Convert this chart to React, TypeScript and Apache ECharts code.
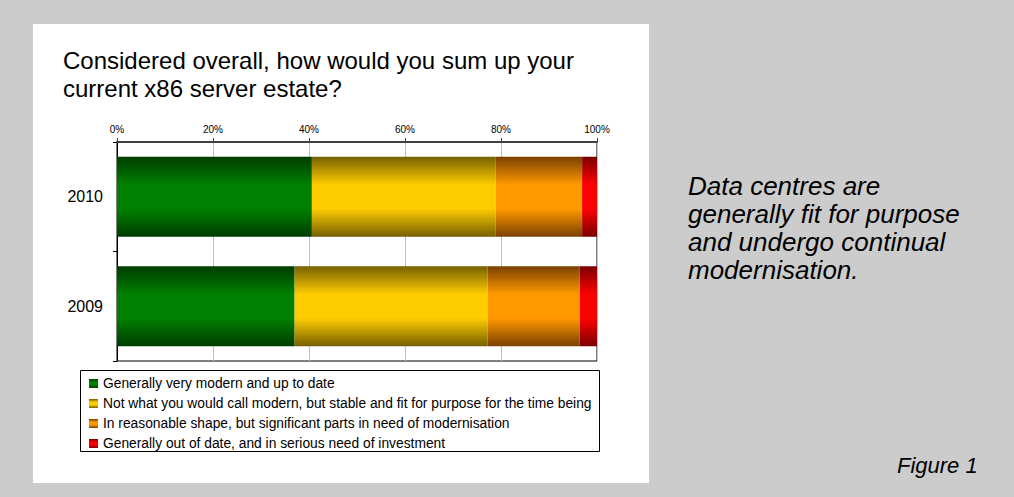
import React, { useEffect, useRef } from "react";
import * as echarts from "echarts";

const categories = ["2009", "2010"];
const seriesNames = [
  "Generally very modern and up to date",
  "Not what you would call modern, but stable and fit for purpose for the time being",
  "In reasonable shape, but significant parts in need of modernisation",
  "Generally out of date, and in serious need of investment",
];
const veryModern = [37.0, 40.6];
const stableFit = [40.2, 38.3];
const needModernisation = [19.2, 18.0];
const outOfDate = [3.6, 3.1];
const xTicks = [0, 20, 40, 60, 80, 100];

const seriesValues = [veryModern, stableFit, needModernisation, outOfDate];
const palette = [
  ["#003c00", "#008000"],
  ["#766000", "#ffcc00"],
  ["#7a4000", "#ff9900"],
  ["#7a0000", "#ff0000"],
];

function grad(dark: string, bright: string) {
  return new echarts.graphic.LinearGradient(0, 0, 0, 1, [
    { offset: 0, color: dark },
    { offset: 0.35, color: bright },
    { offset: 0.65, color: bright },
    { offset: 1, color: dark },
  ]);
}

export default function App() {
  const ref = useRef<HTMLDivElement>(null);
  useEffect(() => {
    if (!ref.current) return;
    const chart = echarts.init(ref.current, undefined, { renderer: "svg" });
    const font = "'Liberation Sans', Arial, sans-serif";
    chart.setOption({
      animation: false,
      backgroundColor: "#cccccc",
      textStyle: { fontFamily: font },
      graphic: [
        {
          type: "rect",
          z: -10,
          shape: { x: 33, y: 24, width: 616, height: 459 },
          style: { fill: "#ffffff" },
          silent: true,
        },
        {
          type: "rect",
          z: 0,
          shape: { x: 80.5, y: 370.5, width: 519, height: 81 },
          style: { fill: "none", stroke: "#000000", lineWidth: 1 },
          silent: true,
        },
        {
          type: "text",
          left: 63,
          top: 46,
          style: {
            text: "Considered overall, how would you sum up your\ncurrent x86 server estate?",
            font: `24px ${font}`,
            lineHeight: 28,
            fill: "#000000",
          },
        },
        {
          type: "text",
          left: 688,
          top: 172,
          style: {
            text: "Data centres are\ngenerally fit for purpose\nand undergo continual\nmodernisation.",
            font: `italic 26px ${font}`,
            lineHeight: 28,
            fill: "#000000",
          },
        },
        {
          type: "text",
          left: 897,
          top: 454,
          style: {
            text: "Figure 1",
            font: `italic 22px ${font}`,
            fill: "#000000",
          },
        },
      ],
      legend: {
        orient: "vertical",
        left: 89,
        top: 376,
        itemWidth: 9,
        itemHeight: 9,
        itemGap: 5,
        icon: "rect",
        padding: 0,
        textStyle: { fontSize: 13.8, color: "#000", lineHeight: 15, fontFamily: font },
        data: seriesNames,
      },
      grid: {
        left: 117,
        top: 142,
        width: 480,
        height: 219,
        show: true,
        borderColor: "#000000",
        borderWidth: 1,
        backgroundColor: "transparent",
      },
      xAxis: {
        type: "value",
        position: "top",
        min: xTicks[0],
        max: xTicks[xTicks.length - 1],
        interval: 20,
        axisLine: { show: true, lineStyle: { color: "#404040", width: 2 } },
        axisTick: { show: true, length: 4, lineStyle: { color: "#404040" } },
        axisLabel: { formatter: "{value}%", fontSize: 10, color: "#000", margin: 8 },
        splitLine: { show: true, lineStyle: { color: "#c0c0c0", width: 1 } },
      },
      yAxis: {
        type: "category",
        data: categories,
        axisLine: { show: true, lineStyle: { color: "#000", width: 1 } },
        axisTick: { show: true, length: 4, lineStyle: { color: "#000" } },
        axisLabel: { fontSize: 16, color: "#000", margin: 14 },
      },
      series: seriesNames.map((name, i) => ({
        name,
        type: "bar",
        stack: "total",
        barWidth: 80,
        data: seriesValues[i],
        itemStyle: { color: grad(palette[i][0], palette[i][1]) },
        emphasis: { disabled: true },
      })),
    });
    return () => chart.dispose();
  }, []);
  return (
    <div
      ref={ref}
      style={{ position: "fixed", left: 0, top: 0, width: 1014, height: 497 }}
    />
  );
}
